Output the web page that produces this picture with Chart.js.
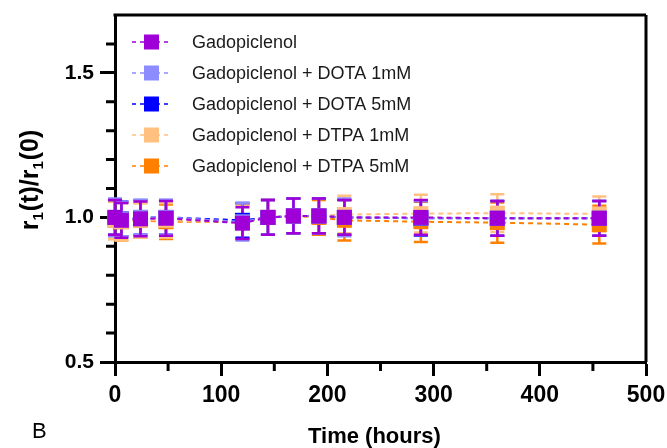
<!DOCTYPE html>
<html><head><meta charset="utf-8">
<script src="https://cdn.jsdelivr.net/npm/chart.js@4/dist/chart.umd.min.js"></script>
<style>html,body{margin:0;padding:0;background:#fff}#wrap{width:667px;height:448px}</style>
</head><body><div id="wrap"><canvas id="c" width="667" height="448"></canvas></div>
<script>
// ---- data ----
const times = [0, 6, 24, 48, 120, 144, 168, 192, 216, 288, 360, 456];
const seriesLabels = ["Gadopiclenol", "Gadopiclenol + DOTA 1mM", "Gadopiclenol + DOTA 5mM", "Gadopiclenol + DTPA 1mM", "Gadopiclenol + DTPA 5mM"];
const gado        = [1.000, 0.990, 0.995, 0.997, 0.980, 1.000, 1.005, 1.005, 1.000, 1.000, 0.997, 0.997];
const gadoErr     = [0.060, 0.060, 0.060, 0.060, 0.055, 0.060, 0.060, 0.060, 0.060, 0.060, 0.060, 0.060];
const dota1       = [1.000, 0.995, 1.000, 1.000, 0.985, 1.000, 1.005, 1.005, 1.000, 0.998, 0.997, 0.997];
const dota1Err    = [0.065, 0.060, 0.060, 0.060, 0.065, 0.060, 0.060, 0.060, 0.065, 0.060, 0.060, 0.060];
const dota5       = [1.000, 0.995, 1.000, 1.000, 0.990, 1.000, 1.005, 1.005, 1.000, 0.997, 0.997, 0.997];
const dota5Err    = [0.060, 0.060, 0.060, 0.060, 0.060, 0.060, 0.060, 0.060, 0.060, 0.060, 0.060, 0.060];
const dtpa1       = [0.990, 0.985, 0.990, 0.990, 0.985, 1.000, 1.005, 1.005, 1.010, 1.013, 1.015, 1.012];
const dtpa1Err    = [0.065, 0.065, 0.060, 0.060, 0.060, 0.060, 0.060, 0.060, 0.065, 0.065, 0.065, 0.060];
const dtpa5       = [0.990, 0.985, 0.990, 0.985, 0.985, 1.000, 1.005, 1.000, 0.990, 0.985, 0.982, 0.975];
const dtpa5Err    = [0.065, 0.065, 0.060, 0.060, 0.060, 0.060, 0.060, 0.060, 0.070, 0.070, 0.070, 0.065];
const xTickVals = [0, 100, 200, 300, 400, 500];
const xMinorVals = [50, 150, 250, 350, 450];
const yTickVals = [0.5, 1.0, 1.5];
const yMinorVals = [0.6, 0.7, 0.8, 0.9, 1.1, 1.2, 1.3, 1.4, 1.6];

// ---- styles ----
const colors = ["#a000d8", "#8c8cff", "#0000ff", "#ffc080", "#ff8000"];
const FONT = "'Liberation Sans', Arial, sans-serif";
const values = [gado, dota1, dota5, dtpa1, dtpa5];
const errs = [gadoErr, dota1Err, dota5Err, dtpa1Err, dtpa5Err];

const datasets = seriesLabels.map((lab, i) => ({
  label: lab,
  data: times.map((t, j) => ({x: t, y: values[i][j]})),
  errors: errs[i],
  borderColor: colors[i],
  backgroundColor: colors[i],
  pointBackgroundColor: colors[i],
  pointBorderWidth: 0,
  pointStyle: 'rect',
  pointRadius: 10.6,
  borderWidth: 2,
  borderDash: [5, 4],
  tension: 0,
  clip: false
}));

const errorBars = {
  id: 'errorBars',
  beforeDatasetsDraw(chart) {
    const ctx = chart.ctx, xs = chart.scales.x, ys = chart.scales.y;
    ctx.save();
    for (let i = chart.data.datasets.length - 1; i >= 0; i--) {
      const ds = chart.data.datasets[i];
      ctx.strokeStyle = ds.borderColor;
      ctx.lineWidth = 2.5;
      ctx.setLineDash([]);
      ds.data.forEach((p, j) => {
        const x = xs.getPixelForValue(p.x);
        const yt = ys.getPixelForValue(p.y + ds.errors[j]);
        const yb = ys.getPixelForValue(p.y - ds.errors[j]);
        ctx.beginPath();
        ctx.moveTo(x, yt); ctx.lineTo(x, yb);
        ctx.moveTo(x - 7, yt); ctx.lineTo(x + 7, yt);
        ctx.moveTo(x - 7, yb); ctx.lineTo(x + 7, yb);
        ctx.stroke();
      });
    }
    ctx.restore();
  }
};

const decor = {
  id: 'decor',
  afterDraw(chart) {
    const ctx = chart.ctx, xs = chart.scales.x, ys = chart.scales.y, ca = chart.chartArea;
    ctx.save();
    ctx.setLineDash([]);
    ctx.strokeStyle = '#000';
    ctx.lineWidth = 3;
    // frame top/right
    ctx.beginPath();
    ctx.moveTo(ca.left - 1.5, ca.top); ctx.lineTo(ca.right, ca.top);
    ctx.moveTo(ca.right, ca.top); ctx.lineTo(ca.right, ca.bottom);
    ctx.stroke();
    // minor ticks
    ctx.lineWidth = 3;
    ctx.beginPath();
    xMinorVals.forEach(v => { const x = xs.getPixelForValue(v); ctx.moveTo(x, ca.bottom); ctx.lineTo(x, ca.bottom + 9); });
    yMinorVals.forEach(v => { const y = ys.getPixelForValue(v); ctx.moveTo(ca.left, y); ctx.lineTo(ca.left - 9, y); });
    ctx.stroke();

    // legend
    chart.data.datasets.forEach((ds, i) => {
      const y = ca.top + 27 + i * 31;
      ctx.strokeStyle = ds.borderColor;
      ctx.lineWidth = 1.5;
      ctx.setLineDash([4, 4]);
      ctx.beginPath(); ctx.moveTo(ca.left + 17, y); ctx.lineTo(ca.left + 56, y); ctx.stroke();
      ctx.setLineDash([]);
      ctx.fillStyle = ds.backgroundColor;
      ctx.fillRect(ca.left + 29, y - 7.5, 15, 15);
      ctx.fillStyle = '#1a1a1a';
      ctx.font = '18px ' + FONT;
      ctx.textBaseline = 'middle';
      ctx.textAlign = 'left';
      ctx.fillText(ds.label, ca.left + 77, y + 1);
    });

    // x title
    ctx.fillStyle = '#000';
    ctx.font = 'bold 22px ' + FONT;
    ctx.textAlign = 'left';
    ctx.textBaseline = 'alphabetic';
    ctx.fillText('Time (hours)', 308, 443);
    // panel letter
    ctx.font = '22px ' + FONT;
    ctx.fillText('B', 32, 438);

    // y title with subscripts
    const parts = [['r', 0], ['1', 1], ['(t)/r', 0], ['1', 1], ['(0)', 0]];
    const big = 'bold 25px ' + FONT, small = 'bold 15px ' + FONT;
    let W = 0;
    parts.forEach(p => { ctx.font = p[1] ? small : big; W += ctx.measureText(p[0]).width + (p[1] ? 1 : 0); });
    ctx.translate(38, 180);
    ctx.rotate(-Math.PI / 2);
    let x = -W / 2;
    parts.forEach(p => {
      ctx.font = p[1] ? small : big;
      ctx.fillText(p[0], x, p[1] ? 5 : 0);
      x += ctx.measureText(p[0]).width + (p[1] ? 1 : 0);
    });
    ctx.restore();
  }
};

new Chart(document.getElementById('c'), {
  type: 'line',
  data: { datasets },
  options: {
    responsive: false,
    devicePixelRatio: 1,
    animation: false,
    layout: { padding: { left: 0, right: 21, top: 15, bottom: 0 } },
    plugins: { legend: { display: false }, tooltip: { enabled: false } },
    scales: {
      x: {
        type: 'linear', min: 0, max: 500,
        afterBuildTicks: s => { s.ticks = xTickVals.map(v => ({ value: v })); },
        afterFit: s => { s.height = 86; s.paddingLeft = 0; s.paddingRight = 0; },
        border: { display: true, color: '#000', width: 3 },
        grid: { display: true, drawOnChartArea: false, drawTicks: true, tickLength: 14, tickWidth: 3, tickColor: '#000' },
        ticks: { color: '#000', font: { family: FONT, size: 23, weight: 'bold' }, padding: 6, maxRotation: 0 }
      },
      y: {
        type: 'linear', min: 0.5, max: 1.7,
        afterBuildTicks: s => { s.ticks = yTickVals.map(v => ({ value: v })); },
        afterFit: s => { s.width = 115; s.paddingTop = 0; s.paddingBottom = 0; },
        border: { display: true, color: '#000', width: 3 },
        grid: { display: true, drawOnChartArea: false, drawTicks: true, tickLength: 15, tickWidth: 3, tickColor: '#000' },
        ticks: { color: '#000', font: { family: FONT, size: 21, weight: 'bold' }, padding: 6, callback: v => v.toFixed(1) }
      }
    }
  },
  plugins: [errorBars, decor]
});
</script>
</body></html>
